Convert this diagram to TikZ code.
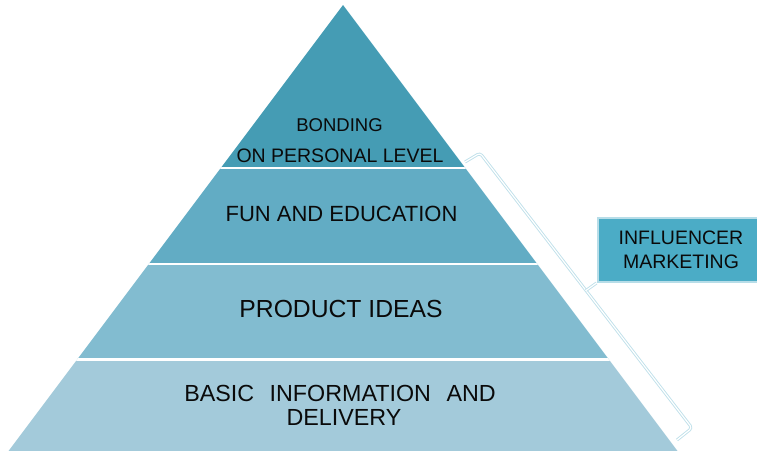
\documentclass[tikz,border=0pt]{standalone}
\usepackage{fontspec}
\setmainfont{Liberation Sans}
\definecolor{layA}{HTML}{459CB4}
\definecolor{layB}{HTML}{62ACC4}
\definecolor{layC}{HTML}{82BCD0}
\definecolor{layD}{HTML}{A3CADA}
\definecolor{boxfill}{HTML}{4BACC6}
\definecolor{boxedge}{HTML}{B7DDE8}
\definecolor{brkcol}{HTML}{BFE0EA}
\definecolor{txt}{HTML}{0A0A0A}
\tikzset{
  lbl/.style={anchor=base, inner sep=0pt, text=txt},
  sepline/.style={white, line width=2.5pt},
  brk/.style={draw=brkcol, line width=0.9pt, double=white, double distance=1.2pt, line join=round, rounded corners=3pt},
  infbox/.style={fill=boxfill, draw=boxedge, line width=2.5pt, minimum width=166pt, minimum height=64pt, inner sep=0pt, align=center, text=txt, font=\fontsize{19.5}{23.5}\selectfont}
}
\begin{document}
\begin{tikzpicture}[x=1pt,y=-1pt]
\useasboundingbox (0,0) rectangle (757,450);
\coordinate (apex) at (343,5);
\coordinate (bl) at (1.75,460);
\coordinate (br) at (684.25,460);
\begin{scope}
  \clip (apex) -- (bl) -- (br) -- cycle;
  \fill[layA] (0,0) rectangle (757,168);
  \fill[layB] (0,168) rectangle (757,264);
  \fill[layC] (0,264) rectangle (757,359);
  \fill[layD] (0,359) rectangle (757,460);
  \draw[sepline] (0,168) -- (757,168);
  \draw[sepline] (0,264.2) -- (757,264.2);
  \draw[sepline] (0,359.3) -- (757,359.3);
\end{scope}
\node[lbl, font=\fontsize{18.5}{22}\selectfont] (bond1) at (339.5,131.7) {BONDING};
\node[lbl, font=\fontsize{19.5}{23}\selectfont] (bond2) at (340,162) {ON PERSONAL LEVEL};
\node[lbl, font=\fontsize{22}{26}\selectfont] (fun) at (341.5,221.7) {FUN AND EDUCATION};
\node[lbl, font=\fontsize{24.7}{29}\selectfont] (prod) at (341,317) {PRODUCT IDEAS};
\node[lbl, font=\fontsize{23.3}{27}\selectfont] (basic1) at (340,401.7) {BASIC\hspace{9pt} INFORMATION\hspace{9pt} AND};
\node[lbl, font=\fontsize{23.3}{27}\selectfont] (basic2) at (344,425) {DELIVERY};
\node[infbox] (infl) at (681,250) {INFLUENCER\\MARKETING};
\coordinate (btop) at (465,162);
\coordinate (bc1) at (480,153);
\coordinate (bc2) at (692,428);
\coordinate (bbot) at (677,440);
\coordinate (bmid) at (586,290.5);
\coordinate (btip) at (596.5,283);
\draw[brk] (btop) -- (bc1) -- (bc2) -- (bbot);
\draw[brk] (bmid) -- (btip);
\end{tikzpicture}
\end{document}
